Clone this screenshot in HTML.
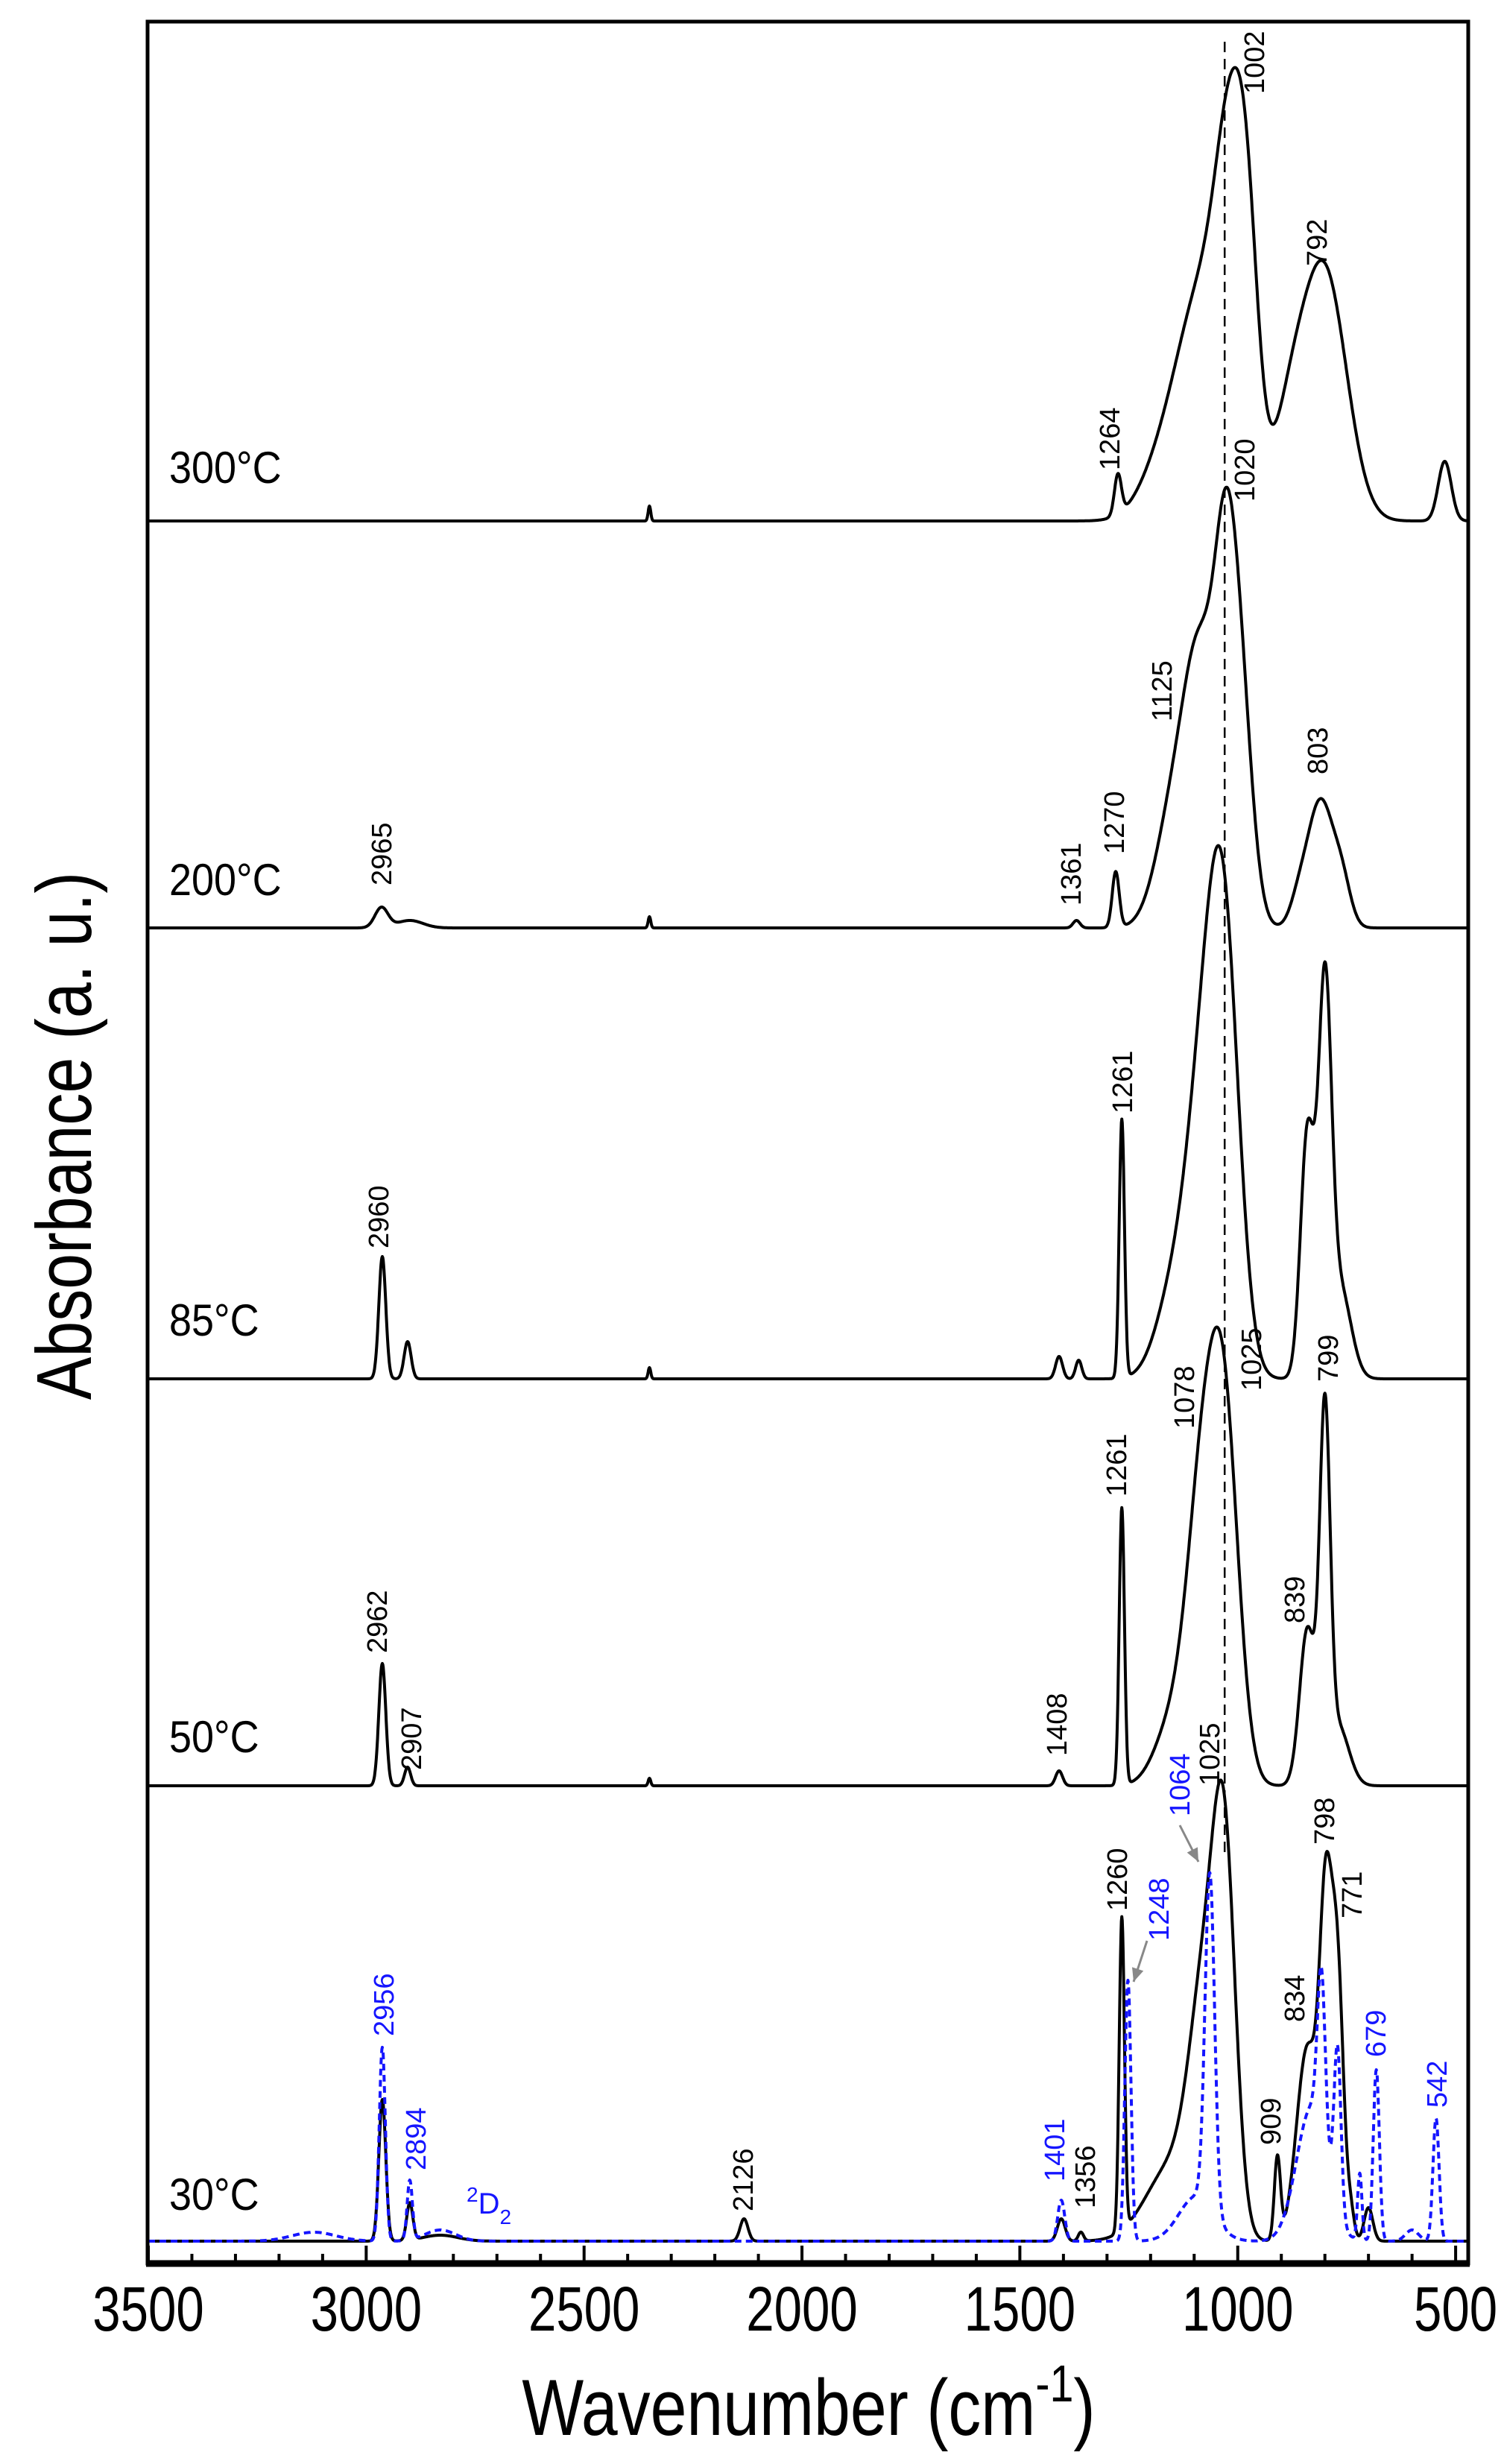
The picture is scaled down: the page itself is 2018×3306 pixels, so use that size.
<!DOCTYPE html>
<html><head><meta charset="utf-8">
<style>
html,body{margin:0;padding:0;background:#fff;}
svg{display:block;}
text{font-family:"Liberation Sans",Arial,sans-serif;}
</style></head>
<body>
<svg id="chart" width="2018" height="3306" viewBox="0 0 2018 3306" xmlns="http://www.w3.org/2000/svg">
<rect x="0" y="0" width="2018" height="3306" fill="#fff"/>
<g id="plot"></g>
<g id="labels"></g>
<rect x="198" y="29" width="1772" height="3008" fill="none" stroke="#000" stroke-width="5"/>
<line x1="196" y1="3037" x2="1972" y2="3037" stroke="#000" stroke-width="9"/>
<g id="ticks"></g>
<text x="1085" y="3267" font-size="107" text-anchor="middle" transform="translate(1085 0) scale(0.82 1) translate(-1085 0)">Wavenumber  (cm<tspan dy="-45" font-size="70">-1</tspan><tspan dy="45">)</tspan></text>
<text x="0" y="0" font-size="105" text-anchor="middle" transform="translate(122 1524) rotate(-90) scale(0.82 1)">Absorbance (a. u.)</text>
</svg>
<script>
// axis domain
const xTickValues = [3500, 3000, 2500, 2000, 1500, 1000, 500];
const xTickLabels = ["3500", "3000", "2500", "2000", "1500", "1000", "500"];
const xMinorValues = [3400,3300,3200,3100,2900,2800,2700,2600,2400,2300,2200,2100,1900,1800,1700,1600,1400,1300,1200,1100,900,800,700,600];

// series baselines (absorbance offsets)
const seriesNames = ["300C", "200C", "85C", "50C", "30C", "30C-ref"];
const seriesOffsets = [2.308, 1.762, 1.157, 0.611, 0, 0];
const seriesTemps = ["300°C", "200°C", "85°C", "50°C", "30°C", ""];
const tempLabelY = [648, 1201, 1792, 2351, 2965];

// peak components: centers (cm-1), heights (a.u.), widths (sigma cm-1)
const s300Centers = [2350, 1275, 1180, 1012, 1080, 975, 880, 800, 525];
const s300Heights = [0.02, 0.054, 0.05, 0.38, 0.30, 0.20, 0.12, 0.33, 0.08];
const s300Widths  = [3, 8, 50, 35, 60, 25, 40, 50, 15];

const s200Centers = [2965, 2900, 2350, 1370, 1280, 1030, 995, 1085, 1150, 860, 810, 760];
const s200Heights = [0.027, 0.01, 0.015, 0.01, 0.075, 0.33, 0.30, 0.34, 0.14, 0.03, 0.17, 0.05];
const s200Widths  = [15, 30, 3, 8, 8, 25, 28, 38, 40, 20, 30, 20];

const s85Centers = [2963, 2905, 2350, 1410, 1365, 1266, 1030, 1078, 1150, 840, 800, 765];
const s85Heights = [0.164, 0.05, 0.015, 0.03, 0.025, 0.347, 0.50, 0.36, 0.10, 0.33, 0.50, 0.12];
const s85Widths  = [8, 8, 3, 8, 7, 6, 35, 40, 40, 16, 15, 25];

const s50Centers = [2963, 2905, 2350, 1410, 1266, 1030, 1082, 1150, 840, 800, 770];
const s50Heights = [0.164, 0.025, 0.01, 0.02, 0.372, 0.45, 0.36, 0.08, 0.21, 0.47, 0.08];
const s50Widths  = [8, 7, 3, 8, 6, 33, 35, 40, 18, 12, 25];

const s30Centers = [2963, 2900, 2830, 2133, 1405, 1360, 1266, 1030, 1075, 1150, 909, 840, 798, 771, 740, 700];
const s30Heights = [0.19, 0.05, 0.008, 0.03, 0.03, 0.012, 0.42, 0.45, 0.30, 0.10, 0.11, 0.26, 0.40, 0.35, 0.03, 0.045];
const s30Widths  = [8, 7, 40, 9, 9, 6, 6, 26, 35, 60, 7, 25, 14, 14, 8, 10];

const sRefCenters = [3120, 2963, 2900, 2830, 1405, 1252, 1064, 1095, 830, 808, 771, 720, 682, 600, 545];
const sRefHeights = [0.012, 0.26, 0.08, 0.015, 0.055, 0.35, 0.45, 0.06, 0.18, 0.22, 0.22, 0.09, 0.23, 0.015, 0.165];
const sRefWidths  = [50, 7, 6, 35, 8, 7, 11, 40, 35, 9, 8, 5, 7, 15, 7];

// peak annotations
const annText = ["1002","792","1264","1020","1125","803","1270","1361","2965","1261","2960","1078","1025","799","1261","839","1408","2962","2907","1025","798","771","1260","1064","1248","834","679","542","909","1401","1356","2956","2894","2126"];
const annX = [1682,1766,1488,1669,1558,1767,1494,1436,511,1505,507,1588,1678,1781,1497,1736,1417,505,551,1622,1776,1813,1498,1582,1554,1736,1845,1927,1704,1414,1455,514,557,996];
const annY = [126,357,631,673,968,1039,1146,1215,1188,1494,1675,1917,1866,1854,2008,2178,2356,2218,2375,2396,2475,2574,2564,2437,2604,2713,2760,2828,2878,2927,2963,2732,2912,2967];
const annBlue = [0,0,0,0,0,0,0,0,0,0,0,0,0,0,0,0,0,0,0,0,0,0,0,1,1,0,1,1,0,1,0,1,1,0];

const guideWavenumber = 1030;

const NS = "http://www.w3.org/2000/svg";
const X0 = 199, XPX = 0.5847, Y0 = 3007, YPX = 1000;
function xScale(w){ return X0 + (3500 - w) * XPX; }
function yScale(a){ return Y0 - a * YPX; }
function spectrum(c, h, s, w){
  let v = 0;
  for (let i = 0; i < c.length; i++){ const d = w - c[i]; v += h[i] * Math.exp(-d*d/(2*s[i]*s[i])); }
  return v;
}
const allC = [s300Centers, s200Centers, s85Centers, s50Centers, s30Centers, sRefCenters];
const allH = [s300Heights, s200Heights, s85Heights, s50Heights, s30Heights, sRefHeights];
const allW = [s300Widths, s200Widths, s85Widths, s50Widths, s30Widths, sRefWidths];

const plot = document.getElementById('plot');
for (let k = 0; k < allC.length; k++){
  let d = "";
  for (let w = 3500; w >= 471; w -= 1){
    const y = yScale(seriesOffsets[k] + spectrum(allC[k], allH[k], allW[k], w));
    d += (w === 3500 ? "M" : "L") + xScale(w).toFixed(1) + " " + y.toFixed(1);
  }
  const p = document.createElementNS(NS, 'path');
  p.setAttribute('d', d);
  p.setAttribute('fill', 'none');
  const blue = seriesNames[k] === "30C-ref";
  p.setAttribute('stroke', blue ? '#1515ff' : '#000');
  p.setAttribute('stroke-width', '4');
  if (blue) p.setAttribute('stroke-dasharray', '9 6');
  p.setAttribute('stroke-linejoin', 'round');
  
  
  plot.appendChild(p);
}
const gl = document.createElementNS(NS, 'line');
gl.setAttribute('x1', xScale(guideWavenumber)); gl.setAttribute('x2', xScale(guideWavenumber));
gl.setAttribute('y1', 56); gl.setAttribute('y2', 2489);
gl.setAttribute('stroke', '#000'); gl.setAttribute('stroke-width', '2.5'); gl.setAttribute('stroke-dasharray', '14 9');


plot.appendChild(gl);

const ticks = document.getElementById('ticks');
xTickValues.forEach((v, i) => {
  const t = document.createElementNS(NS, 'line');
  t.setAttribute('x1', xScale(v)); t.setAttribute('x2', xScale(v));
  t.setAttribute('y1', 3013); t.setAttribute('y2', 3037);
  t.setAttribute('stroke', '#000'); t.setAttribute('stroke-width', '4');
  
  
  ticks.appendChild(t);
  const lb = document.createElementNS(NS, 'text');
  const cx = xScale(v);
  lb.setAttribute('x', cx); lb.setAttribute('y', 3127);
  lb.setAttribute('font-size', '84'); lb.setAttribute('text-anchor', 'middle');
  lb.setAttribute('transform', 'translate(' + cx + ' 0) scale(0.8 1) translate(' + (-cx) + ' 0)');
  lb.textContent = xTickLabels[i];
  
  
  ticks.appendChild(lb);
});
xMinorValues.forEach(v => {
  const t = document.createElementNS(NS, 'line');
  t.setAttribute('x1', xScale(v)); t.setAttribute('x2', xScale(v));
  t.setAttribute('y1', 3024); t.setAttribute('y2', 3037);
  t.setAttribute('stroke', '#000'); t.setAttribute('stroke-width', '4');
  
  
  ticks.appendChild(t);
});

const labels = document.getElementById('labels');
tempLabelY.forEach((y, i) => {
  const t = document.createElementNS(NS, 'text');
  t.setAttribute('x', 227); t.setAttribute('y', y);
  t.setAttribute('font-size', '60');
  t.setAttribute('transform', 'translate(227 0) scale(0.9 1) translate(-227 0)');
  t.textContent = seriesTemps[i];
  
  
  labels.appendChild(t);
});
annText.forEach((s, i) => {
  const t = document.createElementNS(NS, 'text');
  const x = annX[i] + 14, y = annY[i];
  t.setAttribute('x', 0); t.setAttribute('y', 0);
  t.setAttribute('font-size', '38');
  t.setAttribute('fill', annBlue[i] ? '#1515ff' : '#000');
  t.setAttribute('transform', 'translate(' + x + ' ' + y + ') rotate(-90)');
  t.textContent = s;
  
  
  labels.appendChild(t);
});
const d2 = document.createElementNS(NS, 'text');
d2.setAttribute('x', 626); d2.setAttribute('y', 2970);
d2.setAttribute('font-size', '40'); d2.setAttribute('fill', '#1515ff');
d2.innerHTML = '<tspan font-size="28" dy="-16">2</tspan><tspan dy="16">D</tspan><tspan font-size="28" dy="14">2</tspan>';


labels.appendChild(d2);
[[1583,2449,1608,2498],[1539,2604,1521,2659]].forEach(a => {
  const l = document.createElementNS(NS, 'line');
  l.setAttribute('x1', a[0]); l.setAttribute('y1', a[1]); l.setAttribute('x2', a[2]); l.setAttribute('y2', a[3]);
  l.setAttribute('stroke', '#888'); l.setAttribute('stroke-width', '3');
  
  
  labels.appendChild(l);
  const ang = Math.atan2(a[3]-a[1], a[2]-a[0]);
  const L = 18, W = 8;
  const bx = a[2] - L*Math.cos(ang), by = a[3] - L*Math.sin(ang);
  const p = document.createElementNS(NS, 'polygon');
  p.setAttribute('points', a[2]+','+a[3]+' '+(bx - W*Math.sin(ang))+','+(by + W*Math.cos(ang))+' '+(bx + W*Math.sin(ang))+','+(by - W*Math.cos(ang)));
  p.setAttribute('fill', '#888');
  
  
  labels.appendChild(p);
});
</script>
</body></html>
